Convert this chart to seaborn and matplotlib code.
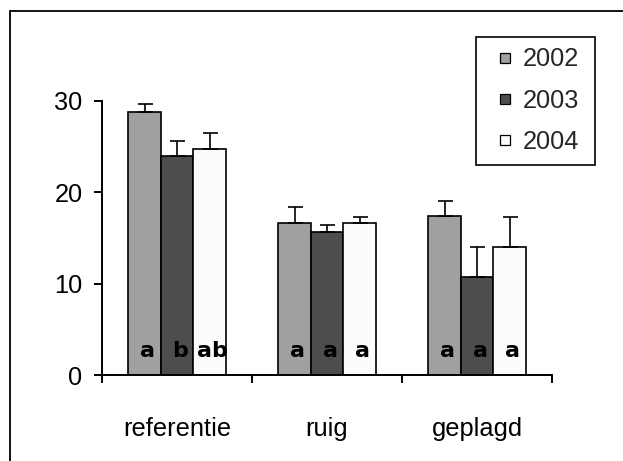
import matplotlib
matplotlib.use("Agg")
import matplotlib.pyplot as plt
from matplotlib.lines import Line2D
from matplotlib.patches import Rectangle
import numpy as np
import pandas as pd
import seaborn as sns

# Sites and sampling years
categories = ["referentie", "ruig", "geplagd"]
years = ["2002", "2003", "2004"]

# Mean values per year (one per site)
mean_2002 = [28.8, 16.6, 17.4]
mean_2003 = [24.0, 15.7, 10.7]
mean_2004 = [24.7, 16.6, 14.0]

# Upper error (standard error) per year
err_2002 = [0.9, 1.8, 1.7]
err_2003 = [1.6, 0.7, 3.3]
err_2004 = [1.8, 0.7, 3.3]

# Significance letters per year
letters_2002 = ["a", "a", "a"]
letters_2003 = ["b", "a", "a"]
letters_2004 = ["ab", "a", "a"]

yticks = [0, 10, 20, 30]

means = [mean_2002, mean_2003, mean_2004]
errs = [err_2002, err_2003, err_2004]
letters = [letters_2002, letters_2003, letters_2004]
colors = ["#A0A0A0", "#4D4D4D", "#FCFCFC"]

df = pd.DataFrame(
    [{"site": c, "year": y, "value": m[i]}
     for y, m in zip(years, means) for i, c in enumerate(categories)]
)

sns.set_style("white")
plt.rcParams["font.family"] = ["Liberation Sans", "DejaVu Sans"]

FS = 18.3
W, H = 623, 461
fig = plt.figure(figsize=(W / 100, H / 100), dpi=100)
ax = fig.add_axes([102 / W, 86 / H, (552 - 102) / W, (375 - 101) / H])

sns.barplot(
    data=df, x="site", y="value", hue="year",
    order=categories, hue_order=years, palette=colors,
    width=0.65, gap=0, saturation=1, errorbar=None,
    edgecolor="black", linewidth=1.2, legend=False, ax=ax,
)

# One-sided error bars and significance letters on each bar
for cont, e, lab in zip(ax.containers, errs, letters):
    xs = [b.get_x() + b.get_width() / 2 for b in cont]
    hs = [b.get_height() for b in cont]
    ax.errorbar(xs, hs, yerr=[np.zeros(len(e)), e], fmt="none",
                ecolor="black", elinewidth=1.2, capsize=5.4, capthick=1.2,
                zorder=1)
    for x, t in zip(xs, lab):
        ax.text(x + 0.02, 2, t, ha="center", va="baseline", fontsize=16,
                fontweight="bold", family="DejaVu Sans", color="black",
                zorder=5)

ax.set_xlim(-0.5, 2.5)
ax.set_ylim(0, 30)
ax.set_yticks(yticks)
ax.set_xlabel("")
ax.set_ylabel("")
for s in ("top", "right"):
    ax.spines[s].set_visible(False)
for s in ("left", "bottom"):
    ax.spines[s].set_color("black")
    ax.spines[s].set_linewidth(1.4)

ax.tick_params(axis="y", direction="out", length=6, width=1.4,
               color="black", pad=8, labelsize=FS, labelcolor="black", left=True)
ax.tick_params(axis="x", which="major", length=0, pad=30,
               labelsize=FS, labelcolor="black")
ax.set_xticks([-0.5, 0.5, 1.5, 2.5], minor=True)
ax.tick_params(axis="x", which="minor", direction="out", length=6,
               width=1.4, color="black", bottom=True)

# Legend
handles = [Line2D([], [], ls="none", marker="s", markersize=7.2,
                  markerfacecolor=c, markeredgecolor="black",
                  markeredgewidth=0.9) for c in colors]
ax.legend(handles, years, loc="upper left",
          bbox_to_anchor=(498.6 / W, (H - 47.5) / H),
          bbox_transform=fig.transFigure, frameon=False, borderpad=0,
          borderaxespad=0, handlelength=0.5, handletextpad=0.46,
          labelspacing=0.67, fontsize=FS)
fig.add_artist(Rectangle((475.7 / W, (H - 165.3) / H),
                         (594.7 - 475.7) / W, (165.3 - 36.7) / H,
                         transform=fig.transFigure, fill=False,
                         edgecolor="black", lw=1.2))

# Outer chart border
fig.add_artist(Line2D([10 / W, 10 / W], [-0.05, (H - 11) / H],
                      transform=fig.transFigure, color="black", lw=1.3))
fig.add_artist(Line2D([10 / W, 1.05], [(H - 11) / H, (H - 11) / H],
                      transform=fig.transFigure, color="black", lw=1.3))

fig.savefig("out.png", dpi=100)
